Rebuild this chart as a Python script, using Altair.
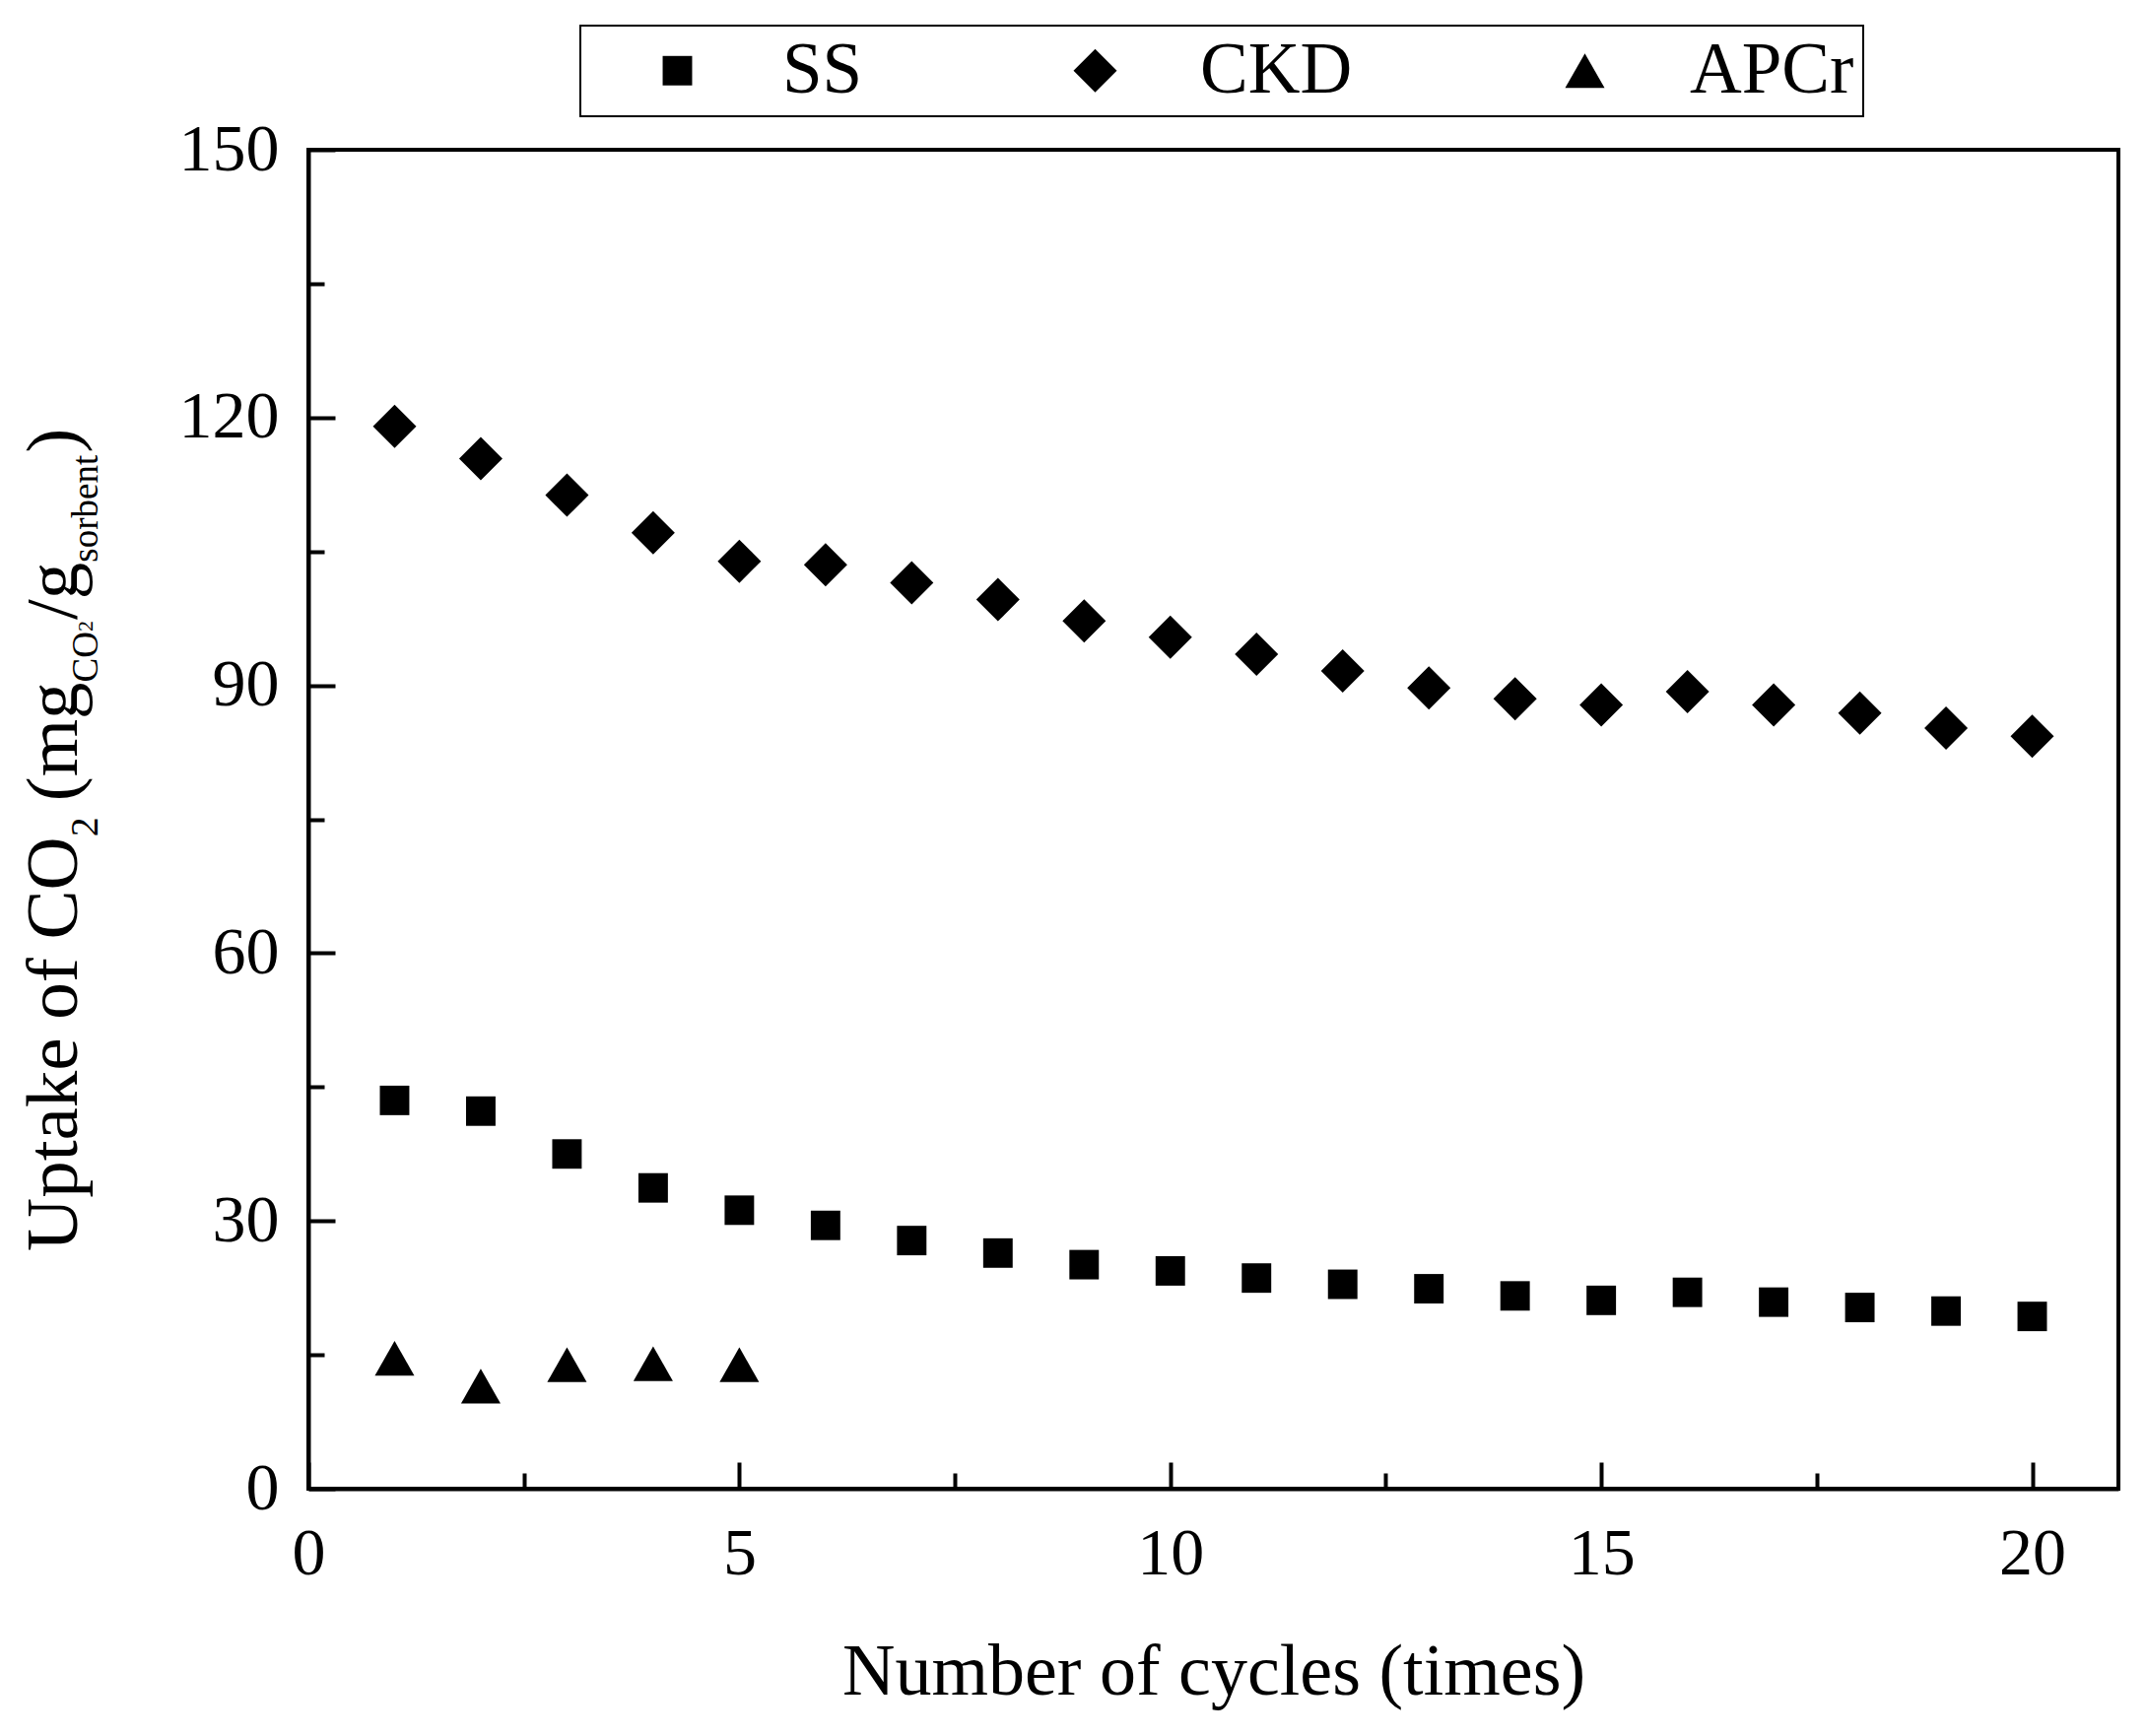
import altair as alt
import pandas as pd

# ---------------- data ----------------
cycles = list(range(1, 21))
ss_uptake = [43.5, 42.3, 37.5, 33.7, 31.2, 29.5, 27.8, 26.4, 25.1, 24.4,
             23.6, 22.9, 22.4, 21.6, 21.1, 22.0, 20.9, 20.3, 19.9, 19.3]
ckd_uptake = [119.0, 115.4, 111.3, 107.1, 103.9, 103.5, 101.5, 99.6, 97.2, 95.4,
              93.5, 91.6, 89.7, 88.5, 87.8, 89.3, 87.8, 86.9, 85.2, 84.3]
apcr_cycles = [1, 2, 3, 4, 5]
apcr_uptake = [14.6, 11.5, 13.9, 14.0, 13.9]
series_names = ["SS", "CKD", "APCr"]

x_ticks = [0, 5, 10, 15, 20]
x_minor = [2.5, 7.5, 12.5, 17.5]
y_ticks = [0, 30, 60, 90, 120, 150]
y_minor = [15, 45, 75, 105, 135]

x_title = "Number of cycles (times)"
# y title pieces: (text, font size, baseline shift for subscripts, gap after)
y_title_pieces = [("Uptake of CO", 75, 0, 0), ("2", 40, 21, 16), ("(mg", 75, 0, 0),
                  ("CO", 37, 21, 0), ("2", 22, 16, 1), ("/g", 75, 0, 0),
                  ("sorbent", 37, 21, 2), (")", 75, 0, 0)]

rows = []
for c, v in zip(cycles, ss_uptake):
    rows.append({"cycle": c, "uptake": v, "series": "SS"})
for c, v in zip(cycles, ckd_uptake):
    rows.append({"cycle": c, "uptake": v, "series": "CKD"})
for c, v in zip(apcr_cycles, apcr_uptake):
    rows.append({"cycle": c, "uptake": v, "series": "APCr"})
df = pd.DataFrame(rows)

# ---------------- layout / style ----------------
FONT = "Liberation Serif"
W, H = 1837, 1359
PLOT_LEFT, PLOT_TOP = 313, 152
SYM = 1936  # symbol box (44 px)
shapes = ["M-0.68,-0.68H0.68V0.68H-0.68Z",   # square
          "M0,-1L1,0L0,1L-1,0Z",             # diamond
          "M0,-0.8L0.91,0.8L-0.91,0.8Z"]     # triangle

x_scale = alt.Scale(domain=[0, 21], nice=False, zero=False)
y_scale = alt.Scale(domain=[0, 150], nice=False, zero=False)

points = alt.Chart(df).mark_point(filled=True, opacity=1, color="black",
                                  size=SYM, strokeWidth=0).encode(
    x=alt.X("cycle:Q", scale=x_scale,
            axis=alt.Axis(values=x_ticks, orient="bottom", title=x_title,
                          tickSize=alt.ExprRef("-27"), labelPadding=59, labelFlush=False,
                          titleFont=FONT, titleFontSize=74, titleFontWeight="normal",
                          titleColor="black", titlePadding=50, format="d")),
    y=alt.Y("uptake:Q", scale=y_scale,
            axis=alt.Axis(values=y_ticks, orient="left", title=None, labelFlush=False,
                          tickSize=alt.ExprRef("-27"), labelPadding=57, format="d")),
    shape=alt.Shape("series:N",
                    scale=alt.Scale(domain=series_names, range=shapes),
                    legend=alt.Legend(title=None, orient="none", legendX=276, legendY=-126,
                                      direction="horizontal", columns=3,
                                      labelFont=FONT, labelFontSize=73, labelColor="black",
                                      labelOffset=70, symbolOffset=53, columnPadding=146,
                                      padding=9, strokeColor="black", fillColor="white",
                                      symbolSize=SYM, symbolStrokeWidth=0,
                                      symbolFillColor="black", labelLimit=0,
                                      labelExpr="datum.label == 'APCr' ? 'APCr\u00a0' : datum.label")),
)

minor = alt.Chart(df).mark_point(opacity=0).encode(
    x=alt.X("cycle:Q", scale=x_scale,
            axis=alt.Axis(values=x_minor, orient="bottom", title=None, labels=False,
                          domain=False, tickSize=alt.ExprRef("-16"))),
    y=alt.Y("uptake:Q", scale=y_scale,
            axis=alt.Axis(values=y_minor, orient="left", title=None, labels=False,
                          domain=False, tickSize=alt.ExprRef("-16"))),
)

# y-axis title composed of rotated text pieces (with subscripts)
ADV = {'U': 722, 'p': 500, 't': 278, 'a': 444, 'k': 500, 'e': 444, ' ': 250,
       'o': 500, 'f': 333, 'C': 667, 'O': 722, '2': 500, '(': 333, 'm': 778,
       'g': 500, '/': 278, 's': 389, 'r': 333, 'b': 500, 'n': 500, ')': 333}
title_layers = []
pos = 1270.0 - PLOT_TOP
for txt, fs, shift, gap in y_title_pieces:
    t = alt.Chart(pd.DataFrame({"t": [txt]})).mark_text(
        font=FONT, fontSize=fs, angle=270, align="left", baseline="alphabetic",
        color="black").encode(
        text="t:N", x=alt.value(78 - PLOT_LEFT + shift), y=alt.value(pos))
    title_layers.append(t)
    pos -= sum(ADV[ch] for ch in txt) * fs / 1000.0 + gap

chart = alt.layer(minor, points, *title_layers).resolve_axis(
    x="independent", y="independent"
).properties(
    width=W, height=H,
    autosize=alt.AutoSizeParams(type="none"),
    padding={"left": PLOT_LEFT - 8, "top": PLOT_TOP - 8, "right": 20, "bottom": 250},
).configure_view(
    stroke="black", strokeWidth=4
).configure_axis(
    grid=False, domainColor="black", domainWidth=4, tickColor="black", tickWidth=4,
    labelFont=FONT, labelFontSize=68, labelColor="black"
).configure_legend(
    strokeWidth=2
)

chart.save("out.html", embed_options={"renderer": "svg", "actions": False})
